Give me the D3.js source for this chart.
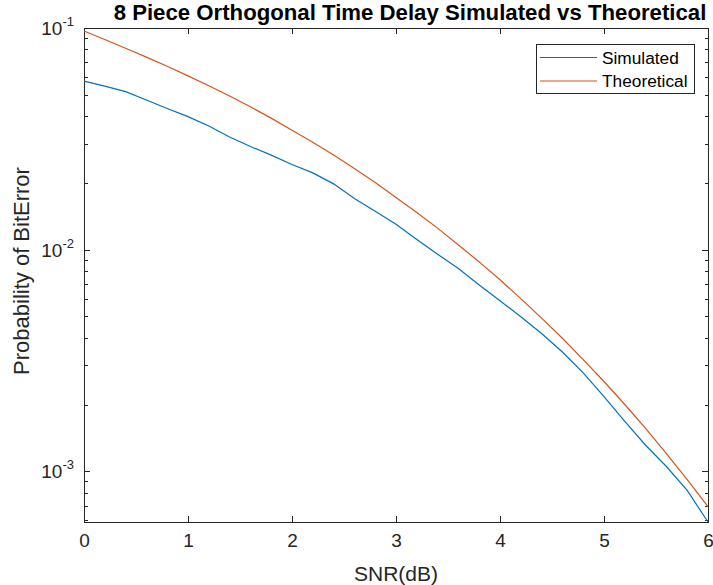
<!DOCTYPE html>
<html>
<head>
<meta charset="utf-8">
<script src="https://cdn.jsdelivr.net/npm/d3@7"></script>
<style>
  body { margin: 0; background: #fff; }
  text { font-family: "Liberation Sans", Arial, sans-serif; fill: #262626; }
</style>
</head>
<body>
<svg id="chart" width="713" height="585"></svg>
<script>
// SNR values (dB) on the x axis
var snr = [0, 0.2, 0.4, 0.6, 0.8, 1.0, 1.2, 1.4, 1.6, 1.8, 2.0, 2.2, 2.4, 2.6, 2.8, 3.0,
           3.2, 3.4, 3.6, 3.8, 4.0, 4.2, 4.4, 4.6, 4.8, 5.0, 5.2, 5.4, 5.6, 5.8, 6.0];

// bit error probability
var simulated = [0.0576, 0.0547, 0.0516, 0.0473, 0.0433, 0.0398, 0.0361, 0.0322, 0.0292, 0.0267,
                 0.0242, 0.0222, 0.0198, 0.0170, 0.0149, 0.0130, 0.0111, 0.00953, 0.00822, 0.00692,
                 0.00588, 0.00498, 0.00418, 0.00345, 0.00278, 0.00217, 0.00168, 0.00131, 0.00105, 0.000819,
                 0.00059];
var theoretical = [0.0969, 0.0887, 0.0810, 0.0739, 0.0672, 0.0608, 0.0549, 0.0493, 0.0441, 0.0392,
                   0.0346, 0.0305, 0.0267, 0.0232, 0.0201, 0.0172, 0.0147, 0.0125, 0.0105, 0.00880,
                   0.00731, 0.00601, 0.00491, 0.00398, 0.00319, 0.00254, 0.00200, 0.00156, 0.00120, 0.000917,
                   0.000693];

var xTicks = [0, 1, 2, 3, 4, 5, 6];
var yTicks = [1e-3, 1e-2, 1e-1];
var yTickExp = ["-3", "-2", "-1"];
var seriesNames = ["Simulated", "Theoretical"];
var seriesColors = ["#0072BD", "#D95319"];

var svg = d3.select("#chart");
var margin = {top: 28, right: 5, bottom: 63, left: 84},
    width = +svg.attr("width") - margin.left - margin.right,
    height = +svg.attr("height") - margin.top - margin.bottom;

var x = d3.scaleLinear().domain([0, 6]).range([0, width]);
var y = d3.scaleLog().domain([d3.min(simulated), 0.1]).range([height, 0]);

var g = svg.append("g")
    .attr("transform", "translate(" + margin.left + "," + margin.top + ")");

var axisColor = "#262626";
var minorTicks = y.ticks().filter(function(d) { return yTicks.indexOf(d) < 0; });

function styleAxis(sel) {
  sel.selectAll("path, line").attr("stroke", axisColor).attr("shape-rendering", "crispEdges");
  sel.select(".domain").attr("stroke-width", 1);
}

// bottom axis with labels
var xAxis = g.append("g")
    .attr("transform", "translate(0," + height + ")")
    .call(d3.axisBottom(x).tickValues(xTicks).tickSizeInner(-6).tickSizeOuter(0).tickPadding(12).tickFormat(d3.format("d")));
xAxis.selectAll("text").attr("font-size", 19).attr("dy", "0.71em").style("font-family", "Liberation Sans, Arial, sans-serif").attr("fill", axisColor);
styleAxis(xAxis);

// top axis (box)
var xTop = g.append("g")
    .call(d3.axisTop(x).tickValues(xTicks).tickSizeInner(-6).tickSizeOuter(0).tickFormat(""));
styleAxis(xTop);

// left axis: major + minor ticks
var yLeft = g.append("g")
    .call(d3.axisLeft(y).tickValues(yTicks).tickSizeInner(-6).tickSizeOuter(0).tickFormat(""));
styleAxis(yLeft);
var yLeftMinor = g.append("g")
    .call(d3.axisLeft(y).tickValues(minorTicks).tickSizeInner(-3.5).tickSizeOuter(0).tickFormat(""));
styleAxis(yLeftMinor);

// right axis (box)
var yRight = g.append("g").attr("transform", "translate(" + width + ",0)")
    .call(d3.axisRight(y).tickValues(yTicks).tickSizeInner(-6).tickSizeOuter(0).tickFormat(""));
styleAxis(yRight);
var yRightMinor = g.append("g").attr("transform", "translate(" + width + ",0)")
    .call(d3.axisRight(y).tickValues(minorTicks).tickSizeInner(-3.5).tickSizeOuter(0).tickFormat(""));
styleAxis(yRightMinor);

// y tick labels as 10^n
var yLab = g.selectAll(".ylab")
    .data(yTicks)
    .enter().append("text")
    .attr("class", "ylab")
    .attr("x", -10)
    .attr("y", function(d) { return y(d) + 7; })
    .attr("text-anchor", "end")
    .attr("font-size", 19);
yLab.append("tspan").text("10");
yLab.append("tspan")
    .attr("dy", -9)
    .attr("font-size", 13)
    .text(function(d, i) { return yTickExp[i]; });

// lines
var line = d3.line()
    .x(function(d) { return x(d[0]); })
    .y(function(d) { return y(d[1]); });

[simulated, theoretical].forEach(function(vals, i) {
  g.append("path")
      .datum(snr.map(function(s, j) { return [s, vals[j]]; }))
      .attr("fill", "none")
      .attr("stroke", seriesColors[i])
      .attr("stroke-width", 1.2)
      .attr("d", line);
});

// title
svg.append("text")
    .attr("x", 410)
    .attr("y", 20)
    .attr("text-anchor", "middle")
    .attr("font-size", 22.2)
    .attr("font-weight", "bold")
    .style("fill", "#000")
    .text("8 Piece Orthogonal Time Delay Simulated vs Theoretical");

// x label
svg.append("text")
    .attr("x", margin.left + width / 2)
    .attr("y", 581)
    .attr("text-anchor", "middle")
    .attr("font-size", 21)
    .text("SNR(dB)");

// y label
svg.append("text")
    .attr("transform", "translate(29," + (margin.top + height / 2 - 4) + ") rotate(-90)")
    .attr("text-anchor", "middle")
    .attr("font-size", 22)
    .text("Probability of BitError");

// legend
var legend = svg.append("g").attr("transform", "translate(536,44)");
legend.append("rect")
    .attr("width", 158)
    .attr("height", 49)
    .attr("fill", "#fff")
    .attr("stroke", axisColor)
    .attr("stroke-width", 1)
    .attr("shape-rendering", "crispEdges");
seriesNames.forEach(function(name, i) {
  var yy = 13.5 + i * 23.5;
  legend.append("line")
      .attr("x1", 4).attr("x2", 61)
      .attr("y1", yy).attr("y2", yy)
      .attr("stroke", seriesColors[i])
      .attr("stroke-width", 1.2);
  legend.append("text")
      .attr("x", 66)
      .attr("y", yy + 6)
      .attr("font-size", 17.3)
      .style("fill", "#000")
      .text(name);
});
</script>
</body>
</html>
